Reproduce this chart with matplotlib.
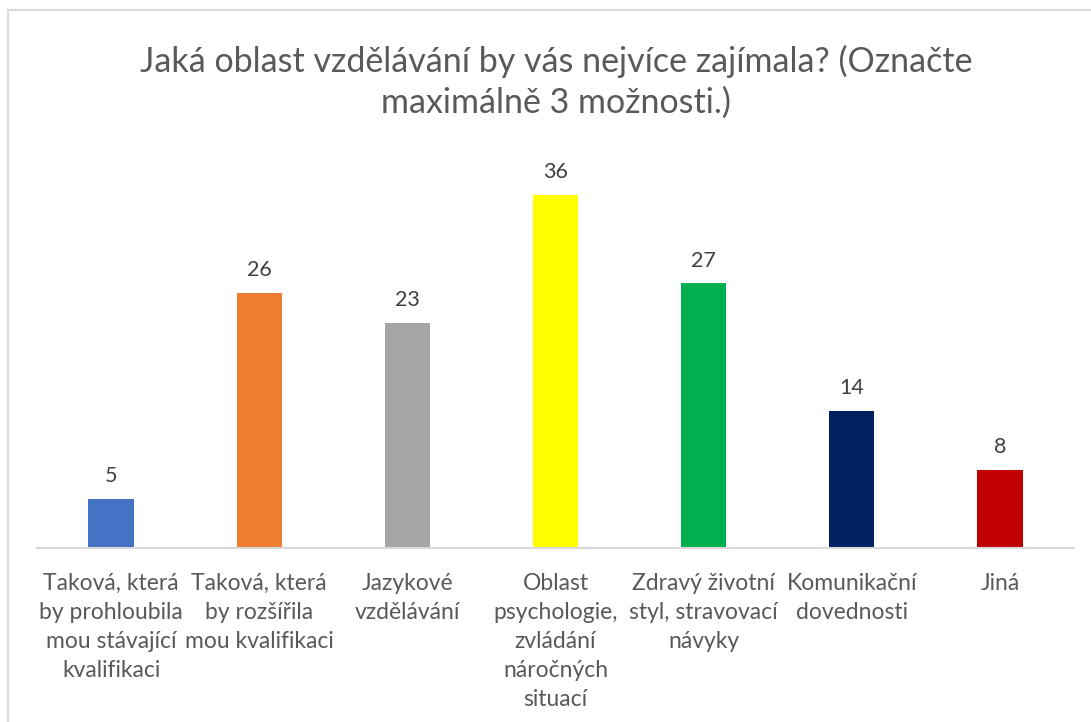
import matplotlib.pyplot as plt
from matplotlib.patches import Rectangle

# data
categories = [
    "Taková, která\nby prohloubila\nmou stávající\nkvalifikaci",
    "Taková, která\nby rozšířila\nmou kvalifikaci",
    "Jazykové\nvzdělávání",
    "Oblast\npsychologie,\nzvládání\nnáročných\nsituací",
    "Zdravý životní\nstyl, stravovací\nnávyky",
    "Komunikační\ndovednosti",
    "Jiná",
]
values = [5, 26, 23, 36, 27, 14, 8]
colors = ["#4472c4", "#ed7d31", "#a5a5a5", "#ffff00", "#00b050", "#002060", "#c00000"]
title = "Jaká oblast vzdělávání by vás nejvíce zajímala? (Označte\nmaximálně 3 možnosti.)"

plt.rcParams['font.family'] = ['Lato', 'DejaVu Sans']

fig = plt.figure(figsize=(10.91, 7.22), dpi=100)
fig.patches.append(Rectangle((8 / 1091, -0.1), 1.2, 1 - 10 / 722 + 0.1,
                             transform=fig.transFigure, fill=False,
                             edgecolor="#d9d9d9", linewidth=1.5))

ax = fig.add_axes([37 / 1091, (722 - 548) / 722, 1037 / 1091, 392 / 722])
x = range(len(values))
bars = ax.bar(x, values, width=0.305, color=colors)
for xi, v in zip(x, values):
    ax.text(xi, v + 1.3, str(v), ha="center", va="bottom", fontsize=15.5, color="#404040")

ax.set_xlim(-0.5, len(values) - 0.5)
ax.set_ylim(0, 40)
ax.set_yticks([])
ax.set_xticks(list(x))
ax.set_xticklabels(categories, fontsize=16.5, color="#595959", linespacing=1.47)
ax.tick_params(axis="x", length=0, pad=18)
for s in ["top", "left", "right"]:
    ax.spines[s].set_visible(False)
ax.spines["bottom"].set_color("#d9d9d9")
ax.spines["bottom"].set_linewidth(1.5)

fig.text(556 / 1091, 1 - 82 / 722, title, ha="center", va="center",
         fontsize=24.5, color="#595959", linespacing=1.35)

fig.savefig("out.png", dpi=100)
